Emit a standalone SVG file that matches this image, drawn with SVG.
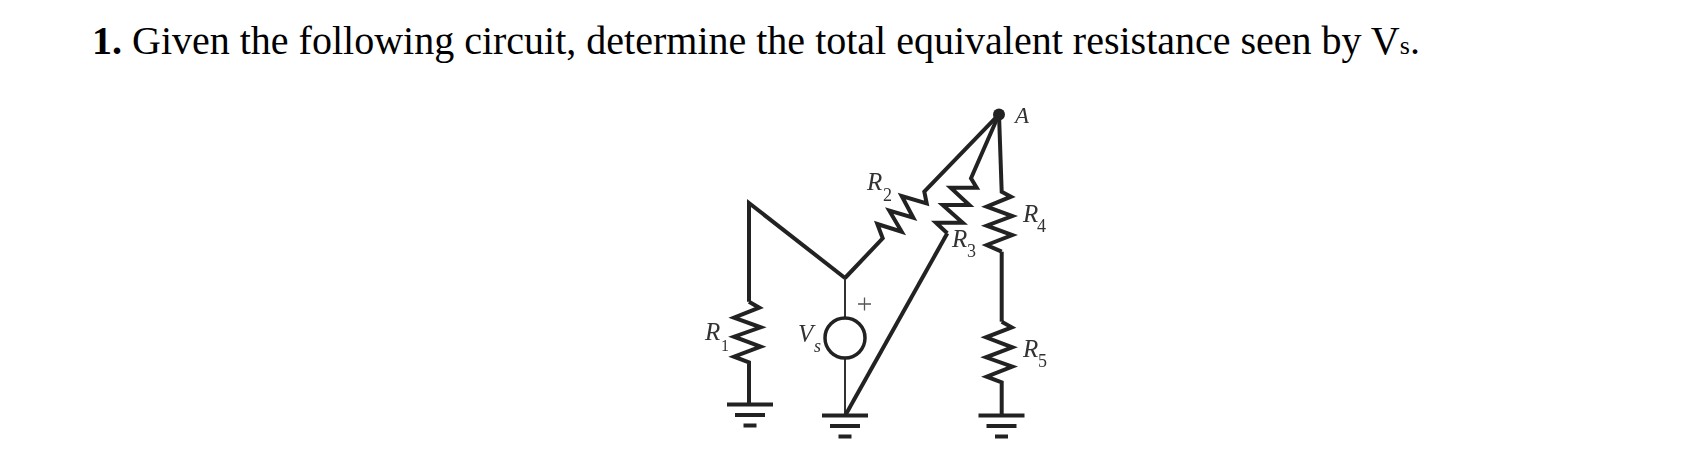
<svg xmlns="http://www.w3.org/2000/svg" width="1700" height="469" viewBox="0 0 1700 469">
<style>
.t{font-family:"Liberation Serif","Times New Roman",serif;font-size:40px;fill:#000}
.l{font-family:"Liberation Serif","Times New Roman",serif;font-style:italic;font-size:25px;fill:#333}
.a{font-family:"Liberation Serif","Times New Roman",serif;font-style:italic;font-size:23px;fill:#333}
.s{font-family:"Liberation Serif","Times New Roman",serif;font-style:italic;font-size:18px;fill:#333}
.n{font-family:"Liberation Serif","Times New Roman",serif;font-size:18px;fill:#333}
.w{fill:none;stroke:#222;stroke-width:4;stroke-linejoin:miter}
.h{fill:none;stroke:#333;stroke-width:2}
.g{fill:none;stroke:#222;stroke-width:4}
</style>
<defs>
<filter id="b" x="-5%" y="-5%" width="110%" height="110%"><feGaussianBlur stdDeviation="0.45"/></filter>
<g id="gnd"><path class="g" d="M-23 0H23M-15 10.500H15M-6.500 21H6.500"/></g>
</defs>
<rect width="1700" height="469" fill="#fff"/>
<text id="title" class="t" x="92" y="54"><tspan font-weight="bold">1.</tspan> Given the following circuit, determine the total equivalent resistance seen by V<tspan font-size="26px">s</tspan>.</text>
<g filter="url(#b)">
<g id="connectors">
<path class="w" d="M749 301.700V203L845 278"/>
<path class="h" d="M845 278V317M845 358V415"/>
<path class="w" d="M845.500 415L947.300 233.300"/>
<path class="w" d="M1001.700 251.700V321.700"/>
</g>
<g id="node-a"><circle cx="999" cy="114.500" r="6" fill="#222"/><text class="a" x="1015" y="123">A</text></g>
<g id="r1"><path class="w" d="M749 301.700L759.300 307.700 734 317.700 760.700 327.300 734 336.700 760.700 346.700 734 356.700 749 362.300V404.300"/><text class="l" x="705" y="340">R</text><text class="n" x="721" y="351" style="font-size:16px">1</text></g>
<g id="r2"><path class="w" d="M999 114.300L924.300 191.700 926.700 203.300 901.700 196 913.300 217.700 889.300 210.700 901.700 231.700 877.300 224 882.700 238.300 845 278"/><text class="l" x="867" y="190">R</text><text class="n" x="883" y="201">2</text></g>
<g id="r3"><path class="w" d="M999 114.300L971 178.300 976.700 187.700H950.700L969.300 205H942.700L962.700 222.700H936L947.300 233.300"/><text class="l" x="952" y="247">R</text><text class="n" x="967" y="257">3</text></g>
<g id="r4"><path class="w" d="M999 114.300L1001.700 191.700 1011 196.700 986.700 206.700 1012.300 216 986.700 225.700 1012.300 235 986.700 245 1001.700 251.700"/><text class="l" x="1023" y="222">R</text><text class="n" x="1037" y="232">4</text></g>
<g id="r5"><path class="w" d="M1001.700 321.700L1011.700 327.300 986 337.300 1012.300 347.300 986 357.300 1012.300 366.700 986.700 376.700 1001.700 382.300V415.700"/><text class="l" x="1023" y="357">R</text><text class="n" x="1038" y="367">5</text></g>
<g id="vs"><circle cx="845" cy="338" r="20" fill="none" stroke="#222" stroke-width="3.500"/><text class="l" x="798" y="342">V</text><text class="s" x="814" y="352">s</text><path d="M858 304H871M864.500 297.500V310.500" stroke="#555" stroke-width="1.300" fill="none"/></g>
<g id="gnd1"><use href="#gnd" x="750" y="404.500"/></g>
<g id="gnd2"><use href="#gnd" x="845" y="415.500"/></g>
<g id="gnd3"><use href="#gnd" x="1001.500" y="415.500"/></g>
</g>
</svg>
